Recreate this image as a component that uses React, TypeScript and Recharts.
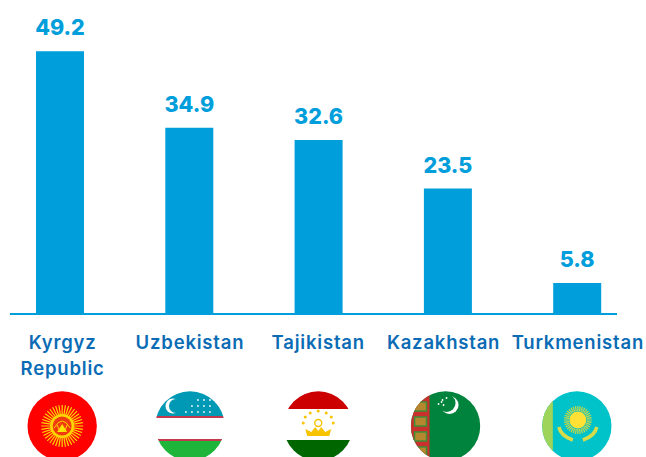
import React from 'react';
import { BarChart, Bar, XAxis, YAxis, LabelList } from 'recharts';

const countries = ['Kyrgyz Republic', 'Uzbekistan', 'Tajikistan', 'Kazakhstan', 'Turkmenistan'];
const values = [49.2, 34.9, 32.6, 23.5, 5.8];
const labelLines = [['Kyrgyz', 'Republic'], ['Uzbekistan'], ['Tajikistan'], ['Kazakhstan'], ['Turkmenistan']];
const flags = ['kg', 'uz', 'tj', 'tm', 'kz'];
const labelShift = [3, 1, 0, -4, 1];
const flagShift = [2.5, 1, 0, -2, 0];

const BLUE = '#009edb';
const LABEL_BLUE = '#0b6cb5';
const FONT = 'Inter, "Open Sans", sans-serif';

const chartData = countries.map((country, i) => ({ country, value: values[i] }));

const rays = (n: number, r1: number, r2: number, color: string, width: number) =>
    Array.from({ length: n }, (_, i) => {
        const a = (i / n) * Math.PI * 2;
        return (
            <line
                key={i}
                x1={Math.cos(a) * r1}
                y1={Math.sin(a) * r1}
                x2={Math.cos(a) * r2}
                y2={Math.sin(a) * r2}
                stroke={color}
                strokeWidth={width}
            />
        );
    });

const dots = (items: number[][], r: number, color: string) =>
    items.map(([x, y], i) => <circle key={i} cx={x} cy={y} r={r} fill={color} />);

const Flag = ({ kind }: { kind: string }) => {
    if (kind === 'kg') {
        return (
            <g>
                <rect x={-35} y={-35} width={70} height={70} fill="#fe0000" />
                {rays(40, 10, 21, '#ffd500', 1.2)}
                <circle r={12} fill="#ffd500" />
                <circle r={9.5} fill="#f03a10" />
                <path d="M-5 6 L0 -2 L5 6 Z" fill="#ffe600" />
                <path d="M-8 2 Q0 -12 8 2 M-5 -1 L-2 6 M5 -1 L2 6" stroke="#ffd500" strokeWidth={1} fill="none" />
            </g>
        );
    }
    if (kind === 'uz') {
        return (
            <g>
                <rect x={-35} y={-35} width={70} height={26} fill="#0099b5" />
                <rect x={-35} y={-10} width={70} height={2} fill="#c4394e" />
                <rect x={-35} y={-8} width={70} height={21} fill="#fff" />
                <rect x={-35} y={13} width={70} height={2} fill="#c4394e" />
                <rect x={-35} y={15} width={70} height={21} fill="#1eb53a" />
                <circle cx={-17} cy={-20} r={7.5} fill="#fff" />
                <circle cx={-14} cy={-20} r={7} fill="#0099b5" />
                {dots(
                    [
                        [-4, -14], [2, -14], [8, -14], [14, -14], [20, -14],
                        [2, -20], [8, -20], [14, -20], [20, -20],
                        [8, -26], [14, -26], [20, -26],
                    ],
                    1,
                    '#dff2f5',
                )}
            </g>
        );
    }
    if (kind === 'tj') {
        return (
            <g>
                <rect x={-35} y={-35} width={70} height={18} fill="#cc0000" />
                <rect x={-35} y={-17} width={70} height={31} fill="#fff" />
                <rect x={-35} y={14} width={70} height={22} fill="#006600" />
                <path d="M-11 10 L-13 3 L-7 6 L-3 1 L0 5 L3 1 L7 6 L13 3 L11 10 Z" fill="#f8c300" />
                <circle cy={-3} r={3.5} fill="none" stroke="#f8c300" strokeWidth={1.4} />
                {dots([[-15, -3], [-13, -9], [-8, -13], [0, -15], [8, -13], [13, -9], [15, -3]], 1.5, '#f8c300')}
            </g>
        );
    }
    if (kind === 'tm') {
        return (
            <g>
                <rect x={-35} y={-35} width={70} height={70} fill="#00843d" />
                <rect x={-35} y={-35} width={19} height={70} fill="#c8312c" />
                {[-24, -9, 6, 21].map((cy) => (
                    <rect key={cy} x={-31} y={cy} width={12} height={9} fill="#b5872e" stroke="#3f8f3a" strokeWidth={1.5} />
                ))}
                <circle cx={4} cy={-21} r={9} fill="#fff" />
                <circle cx={1} cy={-23} r={9} fill="#00843d" />
                {dots([[-7, -22], [-3, -26], [1, -28], [-2, -21], [-4, -24]], 0.9, '#fff')}
            </g>
        );
    }
    return (
        <g>
            <rect x={-35} y={-35} width={70} height={70} fill="#00c2c9" />
            <rect x={-35} y={-35} width={11} height={70} fill="#9fd45a" />
            <g transform="translate(1,-6)">
                {rays(36, 9, 14, '#c6d84a', 1.2)}
                <circle r={8.5} fill="#ffe135" />
            </g>
            <path d="M-18 1 Q-16 10 -4 14 M20 1 Q18 10 6 14" stroke="#d8dc4a" strokeWidth={3.5} fill="none" />
        </g>
    );
};

const CountryTick = ({ x, y, index }: { x: number; y: number; index: number }) => {
    const id = 'flag-' + flags[index];
    return (
        <g>
            <text
                x={x + labelShift[index]}
                y={y + 33}
                textAnchor="middle"
                fill={LABEL_BLUE}
                fontFamily={FONT}
                fontSize={18.5}
                fontWeight={600}
                letterSpacing={0.8}
            >
                {labelLines[index].map((line, i) => (
                    <tspan key={line} x={x + labelShift[index]} dy={i === 0 ? 0 : 26}>
                        {line}
                    </tspan>
                ))}
            </text>
            <defs>
                <clipPath id={id}>
                    <circle r={34.7} />
                </clipPath>
            </defs>
            <g transform={`translate(${x + flagShift[index]},${y + 110})`} clipPath={`url(#${id})`}>
                <Flag kind={flags[index]} />
            </g>
        </g>
    );
};

export default function App() {
    return (
        <div style={{ position: 'absolute', left: 0, top: 0 }}>
            <BarChart
                width={646}
                height={457}
                data={chartData}
                margin={{ top: 0, right: 29, bottom: 0, left: 10 }}
                barSize={48}
            >
                <XAxis
                    dataKey="country"
                    height={143}
                    interval={0}
                    tickLine={false}
                    tickSize={0}
                    tick={CountryTick as any}
                    padding={{ left: -15, right: -24.5 }}
                    axisLine={{ stroke: BLUE, strokeWidth: 2 }}
                />
                <YAxis hide domain={[0, 58.8]} />
                <Bar dataKey="value" fill={BLUE} isAnimationActive={false}>
                    <LabelList
                        dataKey="value"
                        position="top"
                        offset={16}
                        fill={BLUE}
                        fontFamily={FONT}
                        fontSize={21.5}
                        fontWeight={800}
                    />
                </Bar>
            </BarChart>
        </div>
    );
}
